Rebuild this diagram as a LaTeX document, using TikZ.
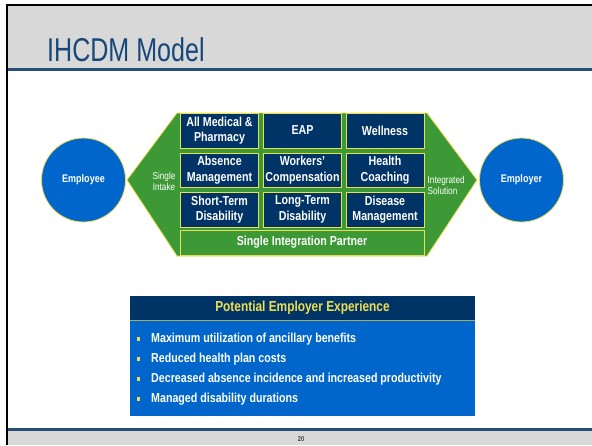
\documentclass[tikz,border=0pt]{standalone}
\usepackage{fontspec}
\setmainfont{Liberation Sans}[FakeStretch=0.82]
\newfontfamily\titlefont{Liberation Sans}[FakeStretch=0.76]
\usetikzlibrary{positioning}
\definecolor{navy}{RGB}{0,51,102}
\definecolor{midblue}{RGB}{0,102,204}
\definecolor{leafgreen}{RGB}{61,153,53}
\definecolor{gold}{RGB}{238,222,84}
\definecolor{titleblue}{RGB}{22,72,122}
\definecolor{headgray}{RGB}{216,216,216}
\definecolor{rulecol}{RGB}{38,78,118}
\definecolor{olive}{RGB}{160,176,96}

\begin{document}
\begin{tikzpicture}[x=1pt,y=-1pt,
  cell/.style={draw=gold, line width=1pt, fill=navy, text=white, minimum width=78pt, minimum height=34pt, inner sep=0pt, align=center, font=\fontsize{13}{15.5}\selectfont\bfseries},
  party/.style={circle, draw=gold, line width=0.8pt, fill=midblue, text=white, minimum size=84pt, inner sep=0pt, font=\fontsize{11}{13}\selectfont\bfseries},
  tag/.style={text=white, inner sep=0pt, font=\fontsize{10}{11}\selectfont},
  point/.style={text=white, anchor=west, inner sep=0pt, font=\fontsize{13}{15}\selectfont\bfseries}]
\useasboundingbox (0,0) rectangle (592,445);
\fill[white] (0,0) rectangle (592,445);

% Header and footer bands
\fill[headgray] (7,5) rectangle (592,68);
\draw[rulecol, line width=3pt] (7,69.5) -- (592,69.5);
\fill[headgray] (7,431) rectangle (592,445);
\draw[rulecol, line width=3pt] (7,429.5) -- (592,429.5);
\draw[black, line width=1.5pt] (6,5) -- (592,5);
\draw[black, line width=2pt] (7,4.5) -- (7,445);
\node[anchor=base west, inner sep=0pt, text=titleblue, font=\titlefont\fontsize{33}{36}\selectfont] (title) at (47,61) {IHCDM Model};
\node[inner sep=0pt, text=black!75, font=\fontsize{7}{8}\selectfont\bfseries] (page) at (301,439) {20};

% Green arrow band
\draw[draw=gold, fill=leafgreen, line width=0.8pt] (127,180) -- (177,113) -- (427,113) -- (477,180) -- (427,256) -- (177,256) -- cycle;

% Parties
\node[party] (employee) at (83.5,180) {Employee};
\node[party] (employer) at (521.5,180) {Employer};
\node[tag, align=center] (intake) at (164,181.5) {Single\\Intake};
\node[tag, align=left, anchor=west] (solution) at (427.5,185.5) {Integrated\\Solution};

% Service grid
\node[cell, minimum height=35pt] (medical) at (219.5,130.5) {All Medical \&\\Pharmacy};
\node[cell, minimum height=35pt] (eap) at (302.5,130.5) {EAP};
\node[cell, minimum height=35pt] (wellness) at (385,130.5) {Wellness};
\node[cell] (absence) at (219.5,170) {Absence\\Management};
\node[cell] (workers) at (302.5,170) {Workers'\\Compensation};
\node[cell] (coaching) at (385,170) {Health\\Coaching};
\node[cell, minimum height=35pt] (shortterm) at (219.5,209.5) {Short-Term\\Disability};
\node[cell, minimum height=35pt] (longterm) at (302.5,209.5) {Long-Term\\Disability};
\node[cell, minimum height=35pt] (disease) at (385,209.5) {Disease\\Management};
\node[cell, fill=leafgreen, minimum width=244pt, minimum height=25pt] (partner) at (302,242.5) {Single Integration Partner};

% Employer experience box
\node[fill=navy, text=gold, minimum width=345pt, minimum height=24pt, inner sep=0pt, font=\fontsize{14.5}{16}\selectfont\bfseries] (exphead) at (302.5,308) {Potential Employer Experience};
\fill[midblue] (130,321) rectangle (475,416);
\draw[olive, line width=1.2pt] (exphead.south west) -- (exphead.south east);
\foreach \y/\txt [count=\i] in {339/Maximum utilization of ancillary benefits,
                                359/Reduced health plan costs,
                                379/Decreased absence incidence and increased productivity,
                                399/Managed disability durations}{
  \fill[gold] (136.5,\y-2) rectangle (140,\y+1.5);
  \node[point] (item\i) at (151,\y) {\txt};
}
\end{tikzpicture}
\end{document}
